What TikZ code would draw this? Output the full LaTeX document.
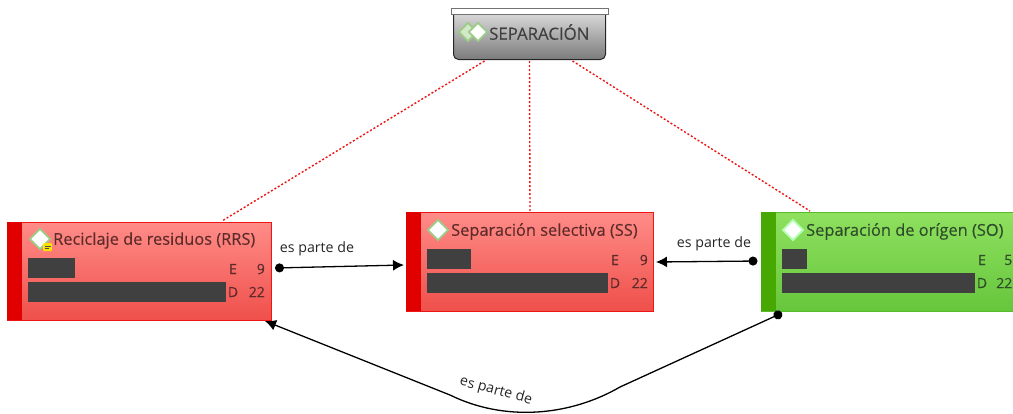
\documentclass[tikz,border=0pt]{standalone}
\usepackage{fontspec}
\setmainfont{Open Sans}
\newfontfamily\boldishFont[FakeBold=0.25]{Open Sans}
\usepackage{xcolor}
\usetikzlibrary{calc}
\usetikzlibrary{shapes.geometric}
\usetikzlibrary{arrows.meta,positioning}

\definecolor{redTop}{HTML}{FF8C88}
\definecolor{redBottom}{HTML}{EF4F4A}
\definecolor{redEdge}{HTML}{E00000}
\definecolor{redLine}{HTML}{EE1515}
\definecolor{redText}{HTML}{5E2B2A}
\definecolor{greenTop}{HTML}{8FE05F}
\definecolor{greenBottom}{HTML}{66C63C}
\definecolor{greenEdge}{HTML}{46A800}
\definecolor{greenLine}{HTML}{58BC2A}
\definecolor{greenText}{HTML}{2F4D2A}
\definecolor{barDark}{HTML}{404040}
\definecolor{iconGreen}{HTML}{9CCB86}

\tikzset{
	redBox/.style={draw=redLine, line width=1pt, top color=redTop, bottom color=redBottom, anchor=north west, inner sep=0pt},
	greenBox/.style={draw=greenLine, line width=1pt, top color=greenTop, bottom color=greenBottom, anchor=north west, inner sep=0pt},
	titleText/.style={anchor=west, inner sep=0pt, font=\boldishFont\fontsize{16.4}{18}\selectfont},
	numText/.style={inner sep=0pt, font=\boldishFont\fontsize{14}{16}\selectfont},
	linkText/.style={inner sep=0pt, text=black!85, font=\fontsize{14.2}{16}\selectfont},
	darkBar/.style={fill=barDark, minimum height=20pt, anchor=north west, inner sep=0pt},
	iconDiamond/.style={diamond, draw=#1, line width=1.8pt, fill=white, minimum width=21pt, minimum height=21pt, inner sep=0pt},
	isPart/.style={{Circle[length=9pt]}-{Latex[length=11pt,width=11pt]}, line width=1.3pt, black},
	hier/.style={redLine, line width=1.4pt, dash pattern=on 2pt off 2pt}
}

\begin{document}
\begin{tikzpicture}[x=1pt,y=-1pt]
		\clip (0,0) rectangle (1013,413);		% page

		% top box
		\node [draw=black!85, line width=1pt, rounded corners=5pt, top color=black!12, bottom color=black!52, minimum width=152pt, minimum height=50pt, anchor=north west, inner sep=0pt] at (453,9) (sep) {};
		\node [draw=black!55, line width=1pt, fill=white, minimum width=157pt, minimum height=6pt, anchor=north west, inner sep=0pt] at (451,8) (sepLid) {};
		\node [iconDiamond=iconGreen, fill=iconGreen!45, minimum width=19pt, minimum height=19pt] at (468,32) (sepIconA) {};
		\node [iconDiamond=iconGreen, minimum width=19pt, minimum height=19pt] at (478,32) (sepIconB) {};
		\node [anchor=west, inner sep=0pt, text=black!75, font=\boldishFont\fontsize{16.8}{18}\selectfont] at (489,32) (sepText) {SEPARACIÓN};

		% left box
		\node [redBox, minimum width=264pt, minimum height=98pt] at (7,222) (rrs) {};
		\fill[redEdge] (7,222) rectangle (22,320);
		\node [iconDiamond=iconGreen] at (40,239) (rrsIcon) {};
		\node [fill=yellow!85!orange, rounded corners=1pt, minimum width=9pt, minimum height=8pt, inner sep=0pt] at (47.5,247) (rrsNote) {};
		\fill[black!70] (44.5,245.5) rectangle (50.5,246.5);		% note lines
		\fill[black!70] (44.5,248) rectangle (48.5,249);
		\node [titleText, text=redText] at (53,240.5) (rrsTitle) {Reciclaje de residuos (RRS)};
		\node [darkBar, minimum width=47pt] at (28,258) (rrsBarE) {};
		\node [darkBar, minimum width=198pt] at (28,282) (rrsBarD) {};
		\node [numText, text=redText] at (233,269) (rrsE) {E};
		\node [numText, text=redText, anchor=east] at (265,269) (rrsENum) {9};
		\node [numText, text=redText] at (233,292) (rrsD) {D};
		\node [numText, text=redText, anchor=east] at (265,292) (rrsDNum) {22};

		% middle box
		\node [redBox, minimum width=247pt, minimum height=99pt] at (406,212) (ss) {};
		\fill[redEdge] (406,212) rectangle (421,311);
		\node [iconDiamond=iconGreen] at (438,230) (ssIcon) {};
		\node [titleText, text=redText] at (451,231.5) (ssTitle) {Separación selectiva (SS)};
		\node [darkBar, minimum width=44pt] at (427,249) (ssBarE) {};
		\node [darkBar, minimum width=181pt] at (427,273) (ssBarD) {};
		\node [numText, text=redText] at (615,260) (ssE) {E};
		\node [numText, text=redText, anchor=east] at (648,260) (ssENum) {9};
		\node [numText, text=redText] at (615,283) (ssD) {D};
		\node [numText, text=redText, anchor=east] at (648,283) (ssDNum) {22};

		% right box
		\node [greenBox, minimum width=262pt, minimum height=99pt] at (761,212) (so) {};
		\fill[greenEdge] (761,212) rectangle (776,311);
		\node [iconDiamond=green!30!white] at (793,230) (soIcon) {};
		\node [titleText, text=greenText] at (806,231.5) (soTitle) {Separación de orígen (SO)};
		\node [darkBar, minimum width=25pt] at (782,249) (soBarE) {};
		\node [darkBar, minimum width=193pt] at (782,273) (soBarD) {};
		\node [numText, text=greenText] at (982,260) (soE) {E};
		\node [numText, text=greenText, anchor=east] at (1012.5,260) (soENum) {5};
		\node [numText, text=greenText] at (982,283) (soD) {D};
		\node [numText, text=greenText, anchor=east] at (1012.5,283) (soDNum) {22};

		% hierarchy lines
		\coordinate (sepLeft) at ($(sep.south)+(-45,1)$);
		\coordinate (sepMid) at ($(sep.south)+(0,1)$);
		\coordinate (sepRight) at ($(sep.south)+(43,1)$);
		\coordinate (rrsTop) at (222,221);
		\coordinate (ssTop) at (530,211);
		\coordinate (soTop) at (810,211);
		\draw [hier] (sepLeft) -- (rrsTop);
		\draw [hier] (sepMid) -- (ssTop);
		\draw [hier] (sepRight) -- (soTop);

		% links
		\coordinate (rrsOut) at (275,268);
		\coordinate (ssIn) at (404,265);
		\coordinate (ssInRight) at (656,262);
		\coordinate (soOut) at (757.5,261);
		\coordinate (soBottom) at (782,313);
		\coordinate (rrsIn) at (265,321);
		\draw [isPart] (rrsOut) -- (ssIn);
		\draw [isPart] (soOut) -- (ssInRight);
		\draw [isPart] (soBottom) -- (620,387) .. controls (570,416) and (505,422) .. (450,395) -- (rrsIn);

		\node [linkText] at (317,249) (linkA) {es parte de};
		\node [linkText] at (714,244) (linkB) {es parte de};
		\node [linkText, rotate=-15] at (496,391) (linkC) {es parte de};
\end{tikzpicture}
\end{document}
